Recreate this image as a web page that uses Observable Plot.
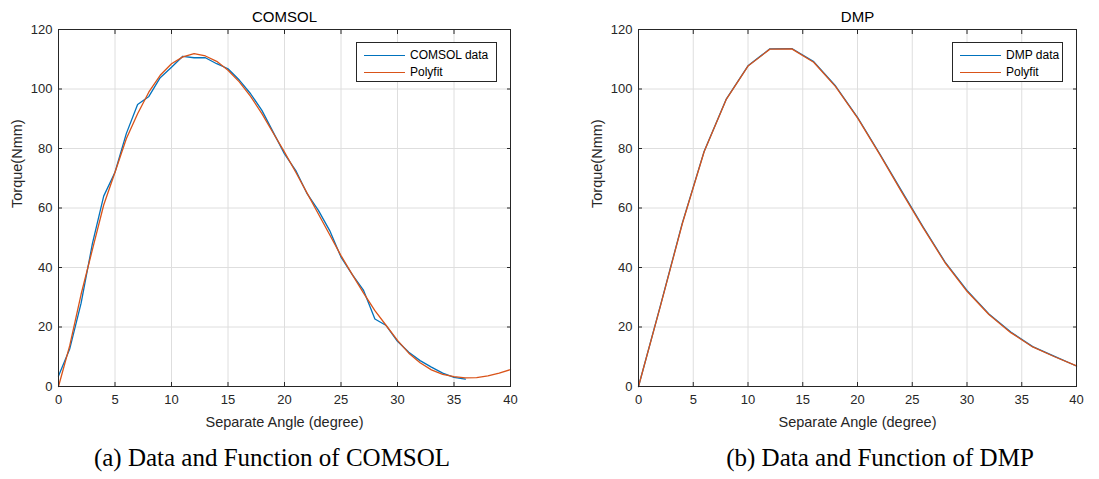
<!DOCTYPE html>
<html>
<head>
<meta charset="utf-8">
<script src="https://cdn.jsdelivr.net/npm/d3@7"></script>
<script src="https://cdn.jsdelivr.net/npm/@observablehq/plot@0.6"></script>
<style>
  html, body { margin: 0; padding: 0; background: #fff; }
  #root { position: relative; width: 1099px; height: 479px; overflow: hidden; font-family: "Liberation Sans", Arial, sans-serif; }
  .chart { position: absolute; top: 0; }
  .legend { position: absolute; box-sizing: border-box; border: 1px solid #262626; background: #fff; height: 40px; font-size: 12px; color: #000; }
  .legend .row { position: absolute; left: 7px; display: flex; align-items: center; height: 14px; }
  .legend .sw { width: 41px; height: 0; border-top: 1.3px solid; margin-right: 5px; }
  .caption { position: absolute; top: 444px; font-family: "Liberation Serif", "Times New Roman", serif; font-size: 25px; color: #000; white-space: nowrap; transform: translateX(-50%); }
</style>
</head>
<body>
<div id="root"></div>
<script>
// ---- data ----
const xTicks = [0, 5, 10, 15, 20, 25, 30, 35, 40];
const yTicks = [0, 20, 40, 60, 80, 100, 120];

const comsolAngle = [0,1,2,3,4,5,6,7,8,9,10,11,12,13,14,15,16,17,18,19,20,21,22,23,24,25,26,27,28,29,30,31,32,33,34,35,36];
const comsolTorque = [3.5,12.7,28,48,64,72,85,94.8,97.5,103.8,107.3,111,110.5,110.5,108.5,106.8,103,98.4,92.8,85.5,78.2,72.6,64.8,59.2,52.4,43.5,37.6,32.3,22.7,20.5,15.2,11.5,8.7,6.5,4.5,3.1,2.5];

const comsolFitAngle = [0,1,2,3,4,5,6,7,8,9,10,11,12,13,14,15,16,17,18,19,20,21,22,23,24,25,26,27,28,29,30,31,32,33,34,35,36,37,38,39,40];
const comsolFitTorque = [0,13.8,31,46,61,72,83.3,91.7,99,104.6,108.5,110.8,111.9,111.1,109.3,106.3,102.4,97.5,91.7,85.2,78.8,72,65,58,51,44,37.6,31.4,25.5,20.5,15.5,11.2,8,5.6,4.1,3.3,2.9,3.0,3.6,4.5,5.7];

const dmpAngle = [0,2,4,6,8,10,12,14,16,18,20,22,24,26,28,30,32,34,36,38,40];
const dmpTorque = [0,27.2,54.9,79.1,96.5,107.8,113.5,113.6,109.2,101,90.5,78.4,65.9,53.6,41.8,32.3,24.4,18.3,13.4,10.1,6.9];
const dmpFitTorque = [0,27.0,54.7,79.0,96.4,107.7,113.4,113.5,109.0,100.8,90.3,78.2,65.6,53.3,41.6,32.0,24.2,18.1,13.3,10.0,6.9];

const titles = ["COMSOL", "DMP"];
const legendLabels = [["COMSOL data", "Polyfit"], ["DMP data", "Polyfit"]];
const captions = ["(a) Data and Function of COMSOL", "(b) Data and Function of DMP"];
const xLabel = "Separate Angle (degree)";
const yLabel = "Torque(Nmm)";

const blue = "#0072BD";
const orange = "#D95319";
const ink = "#262626";

function rows(xs, ys) { return xs.map((x, i) => ({x, y: ys[i]})); }

function makeChart(title, dataRows, fitRows, opts) {
  return Plot.plot({
    width: opts.width,
    height: 440,
    marginTop: 29,
    marginBottom: 54,
    marginLeft: opts.marginLeft,
    marginRight: opts.marginRight,
    style: { fontFamily: '"Liberation Sans", Arial, sans-serif', background: "transparent", color: ink },
    x: { domain: [0, 40] },
    y: { domain: [0, 120] },
    marks: [
      Plot.gridX(xTicks, { stroke: "#dedede", strokeOpacity: 1, strokeWidth: 1 }),
      Plot.gridY(yTicks, { stroke: "#dedede", strokeOpacity: 1, strokeWidth: 1 }),
      Plot.line(dataRows, { x: "x", y: "y", stroke: blue, strokeWidth: 1.3 }),
      Plot.line(fitRows, { x: "x", y: "y", stroke: orange, strokeWidth: 1.3 }),
      Plot.frame({ stroke: ink, strokeWidth: 1 }),
      Plot.axisX(xTicks, { anchor: "bottom", tickSize: -4, tickPadding: 12, fontSize: 13, label: null, stroke: ink, fill: ink }),
      Plot.axisX(xTicks, { anchor: "top", tickSize: -4, tickFormat: () => "", label: null, stroke: ink }),
      Plot.axisY(yTicks, { anchor: "left", tickSize: -4, tickPadding: 10, fontSize: 13, label: null, stroke: ink, fill: ink }),
      Plot.axisY(yTicks, { anchor: "right", tickSize: -4, tickFormat: () => "", label: null, stroke: ink }),
      Plot.text([title], { frameAnchor: "top", dy: -12, fontSize: 15, fill: "#000", lineAnchor: "middle" }),
      Plot.text([xLabel], { frameAnchor: "bottom", dy: 36, fontSize: 14.5, fill: ink, lineAnchor: "middle" }),
      Plot.text([yLabel], { frameAnchor: "left", dx: -41, rotate: -90, fontSize: 14.5, fill: ink, lineAnchor: "middle" })
    ]
  });
}

const root = document.getElementById("root");

function addChart(i, left, chart, legendPos) {
  const wrap = document.createElement("div");
  wrap.className = "chart";
  wrap.style.left = left + "px";
  wrap.appendChild(chart);
  root.appendChild(wrap);

  const lg = document.createElement("div");
  lg.className = "legend";
  lg.style.left = legendPos.left + "px";
  lg.style.top = "42px";
  lg.style.width = legendPos.width + "px";
  [[legendLabels[i][0], blue, 5], [legendLabels[i][1], orange, 22]].forEach(([label, color, top]) => {
    const r = document.createElement("div");
    r.className = "row";
    r.style.top = top + "px";
    const sw = document.createElement("span");
    sw.className = "sw";
    sw.style.borderTopColor = color;
    const t = document.createElement("span");
    t.textContent = label;
    r.appendChild(sw); r.appendChild(t);
    lg.appendChild(r);
  });
  root.appendChild(lg);

  const cap = document.createElement("div");
  cap.className = "caption";
  cap.style.left = legendPos.capX + "px";
  cap.textContent = captions[i];
  root.appendChild(cap);
}

addChart(0, 0,
  makeChart(titles[0], rows(comsolAngle, comsolTorque), rows(comsolFitAngle, comsolFitTorque), { width: 540, marginLeft: 58, marginRight: 30 }),
  { left: 356, width: 141, capX: 272 });

addChart(1, 560,
  makeChart(titles[1], rows(dmpAngle, dmpTorque), rows(dmpAngle, dmpFitTorque), { width: 539, marginLeft: 78, marginRight: 23 }),
  { left: 952, width: 111, capX: 880 });
</script>
</body>
</html>
